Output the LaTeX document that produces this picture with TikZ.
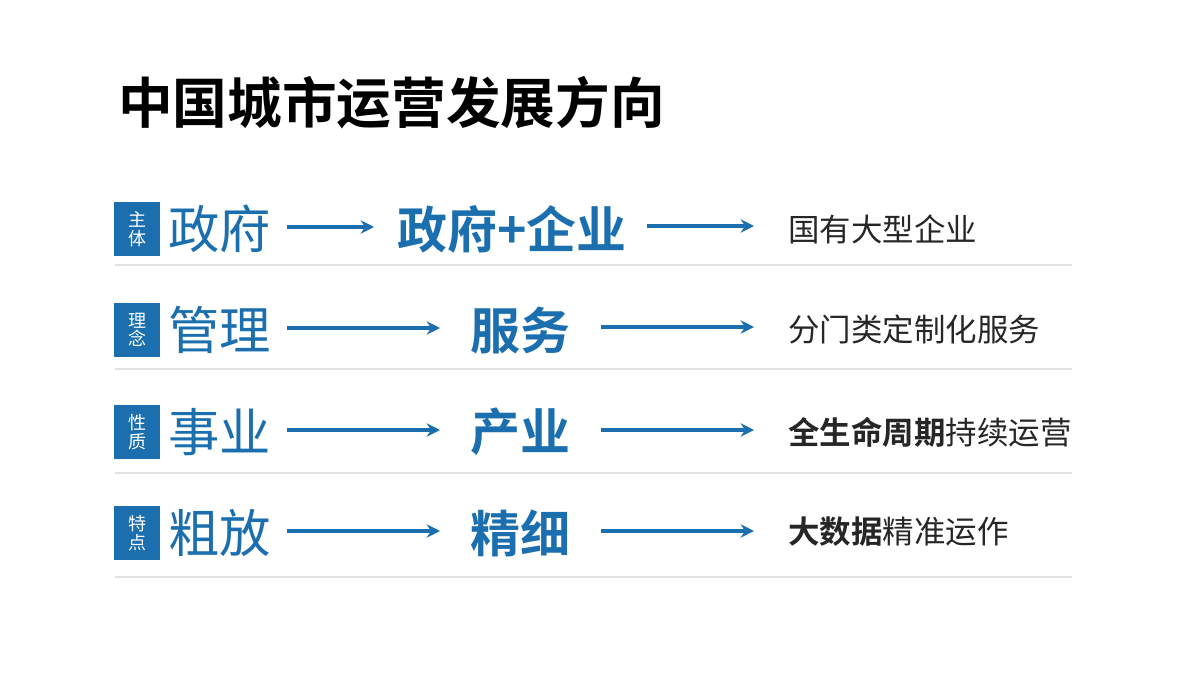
\documentclass[tikz,border=0pt]{standalone}
\usepackage{fontspec}
\setmainfont{Noto Sans CJK SC}[BoldFont={Noto Sans CJK SC Bold}]
\usetikzlibrary{arrows.meta}
\definecolor{cblue}{HTML}{1B6FAE}
\definecolor{sepgray}{HTML}{E2E2E2}
\tikzset{
  tag/.style={fill=cblue, text=white, minimum width=34.5pt, minimum height=40pt, inner sep=0pt, align=center, font=\fontsize{13.5}{14}\selectfont},
  oldw/.style={anchor=west, text=cblue, inner sep=0pt, font=\fontsize{38.5}{40}\selectfont},
  neww/.style={text=cblue, inner sep=0pt, font=\fontsize{37.5}{40}\selectfont\bfseries},
  res/.style={anchor=west, text=black!85, inner sep=0pt, font=\fontsize{23.6}{26}\selectfont},
  arr/.style={draw=cblue, line width=2.4pt, -{Stealth[length=10pt,width=10pt]}},
  sep/.style={draw=sepgray, line width=1.2pt}
}
\begin{document}
\begin{tikzpicture}[x=0.75pt,y=-0.75pt]
\useasboundingbox (0,0) rectangle (1200,675);
\node[anchor=west, inner sep=0pt, font=\fontsize{41}{44}\selectfont\bfseries] (title) at (118,103) {中国城市运营发展方向};

% row 1
\node[tag] (t1) at (137,229) {主\\体};
\node[oldw] (o1) at (168,229) {政府};
\coordinate (a1s) at (287,227);
\coordinate (a1e) at (374,227);
\node[neww, anchor=west] (n1) at (397,229) {政府+企业};
\coordinate (b1s) at (647,226);
\coordinate (b1e) at (754,226);
\node[res] (r1) at (788,229) {国有大型企业};
\coordinate (s1a) at (115,265);
\coordinate (s1b) at (1072,265);

% row 2
\node[tag] (t2) at (137,330) {理\\念};
\node[oldw] (o2) at (168,330) {管理};
\coordinate (a2s) at (287,328);
\coordinate (a2e) at (440,328);
\node[neww] (n2) at (520,330) {服务};
\coordinate (b2s) at (601,327);
\coordinate (b2e) at (754,327);
\node[res] (r2) at (788,329) {分门类定制化服务};
\coordinate (s2a) at (115,369);
\coordinate (s2b) at (1072,369);

% row 3
\node[tag] (t3) at (137,432) {性\\质};
\node[oldw] (o3) at (168,432) {事业};
\coordinate (a3s) at (287,430);
\coordinate (a3e) at (440,430);
\node[neww] (n3) at (520,432) {产业};
\coordinate (b3s) at (601,430);
\coordinate (b3e) at (754,430);
\node[res] (r3) at (788,432) {\textbf{全生命周期}持续运营};
\coordinate (s3a) at (115,473);
\coordinate (s3b) at (1072,473);

% row 4
\node[tag] (t4) at (137,533) {特\\点};
\node[oldw] (o4) at (168,533) {粗放};
\coordinate (a4s) at (287,531);
\coordinate (a4e) at (440,531);
\node[neww] (n4) at (520,533) {精细};
\coordinate (b4s) at (601,531);
\coordinate (b4e) at (754,531);
\node[res] (r4) at (788,532) {\textbf{大数据}精准运作};
\coordinate (s4a) at (115,577);
\coordinate (s4b) at (1072,577);

\foreach \i in {1,2,3,4}{
  \draw[arr] (a\i s) -- (a\i e);
  \draw[arr] (b\i s) -- (b\i e);
  \draw[sep] (s\i a) -- (s\i b);
}
\end{tikzpicture}
\end{document}
